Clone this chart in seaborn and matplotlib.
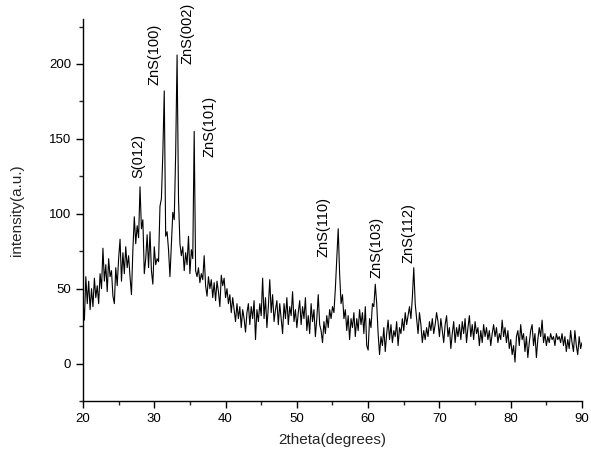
import numpy as np
import pandas as pd
import matplotlib
matplotlib.use('Agg')
import matplotlib.pyplot as plt
import seaborn as sns
from matplotlib.ticker import MultipleLocator

two_theta = np.round(np.arange(20.0, 90.01, 0.2), 1)
intensity = [
    42, 29, 58, 40, 55, 36, 50, 38, 57, 44,    # 20-22
    52, 40, 60, 50, 77, 55, 66, 48, 70, 58,    # 22-24
    62, 45, 40, 64, 52, 70, 83, 55, 74, 60,    # 24-26
    78, 64, 72, 58, 46, 76, 98, 80, 92, 84,    # 26-28
    118, 90, 96, 60, 70, 86, 64, 88, 62, 53,   # 28-30
    78, 66, 70, 68, 105, 110, 140, 182, 85, 88,  # 30-32
    76, 58, 80, 101, 96, 140, 206, 110, 80, 72,  # 32-34
    78, 62, 74, 66, 85, 60, 76, 70, 155, 62,   # 34-36
    58, 64, 54, 60, 56, 72, 52, 45, 58, 50,    # 36-38
    56, 44, 54, 42, 55, 48, 38, 59, 52, 57,    # 38-40
    44, 50, 40, 46, 34, 44, 36, 28, 40, 30,    # 40-42
    38, 24, 36, 30, 21, 34, 40, 26, 38, 30,    # 42-44
    42, 16, 36, 28, 40, 32, 57, 30, 44, 24,    # 44-46
    38, 56, 34, 46, 28, 36, 42, 26, 40, 30,    # 46-48
    20, 40, 30, 44, 26, 38, 32, 48, 28, 36,    # 48-50
    24, 34, 42, 26, 38, 30, 44, 22, 32, 20,    # 50-52
    40, 28, 36, 18, 30, 46, 26, 22, 14, 28,    # 52-54
    20, 32, 24, 36, 30, 38, 34, 50, 70, 90,    # 54-56
    60, 40, 46, 30, 36, 22, 32, 16, 30, 24,    # 56-58
    34, 18, 30, 22, 36, 26, 34, 20, 38, 12,    # 58-60
    9, 30, 24, 40, 38, 53, 40, 20, 6, 18,      # 60-62
    12, 24, 8, 20, 29, 16, 26, 14, 22, 18,     # 62-64
    28, 12, 24, 20, 30, 22, 34, 26, 32, 38,    # 64-66
    30, 44, 64, 40, 30, 20, 34, 26, 14, 22,    # 66-68
    16, 24, 18, 28, 22, 30, 20, 26, 34, 28,    # 68-70
    18, 30, 22, 14, 26, 32, 18, 24, 10, 20,    # 70-72
    28, 14, 24, 18, 26, 16, 28, 20, 30, 14,    # 72-74
    24, 32, 18, 26, 16, 28, 20, 24, 12, 22,    # 74-76
    14, 26, 18, 24, 16, 22, 12, 20, 26, 18,    # 76-78
    24, 14, 20, 16, 29, 18, 24, 14, 22, 10,    # 78-80
    16, 6, 12, 1, 18, 22, 12, 26, 16, 20,      # 80-82
    8, 18, 4, 14, 22, 26, 12, 20, 4, 16,       # 82-84
    24, 18, 29, 14, 20, 12, 18, 14, 20, 16,    # 84-86
    18, 12, 20, 16, 18, 14, 20, 12, 18, 8,     # 86-88
    16, 10, 22, 14, 8, 22, 12, 6, 18, 10,      # 88-90
    14,
]

# etiquetas de los picos: texto, posicion x, base del texto (en unidades de datos)
peak_names = ['S(012)', 'ZnS(100)', 'ZnS(002)', 'ZnS(101)', 'ZnS(110)', 'ZnS(103)', 'ZnS(112)']
peak_x = [27.7, 30.0, 34.6, 37.7, 53.8, 61.2, 65.6]
peak_base = [124, 186, 200, 138, 71, 57, 67]

df = pd.DataFrame({'two_theta': two_theta, 'intensity': intensity})

sns.set_style('ticks')
plt.rcParams['font.family'] = ['Liberation Sans', 'DejaVu Sans']

fig = plt.figure(figsize=(5.91, 4.57), dpi=100)
ax = fig.add_axes([0.1404, 0.1225, 0.8444, 0.8359])

sns.lineplot(data=df, x='two_theta', y='intensity', color='black', linewidth=0.8, ax=ax)

for name, px, py in zip(peak_names, peak_x, peak_base):
    ax.text(px, py, name, rotation=90, ha='center', va='bottom', fontsize=10.5, color='black')

ax.set_xlim(20, 90)
ax.set_ylim(-25, 230)
ax.xaxis.set_major_locator(MultipleLocator(10))
ax.xaxis.set_minor_locator(MultipleLocator(5))
ax.yaxis.set_major_locator(MultipleLocator(50))
ax.yaxis.set_minor_locator(MultipleLocator(25))
ax.tick_params(which='major', direction='out', length=5, width=1, labelsize=9.5, colors='black')
ax.tick_params(which='minor', direction='out', length=3, width=1)

ax.set_xlabel('2theta(degrees)', fontsize=11, labelpad=6)
ax.set_ylabel('intensity(a.u.)', fontsize=11, labelpad=18)

for side in ['top', 'right']:
    ax.spines[side].set_visible(False)
for side in ['left', 'bottom']:
    ax.spines[side].set_linewidth(1)
    ax.spines[side].set_color('black')

plt.savefig('out.png', dpi=100, facecolor='white')
